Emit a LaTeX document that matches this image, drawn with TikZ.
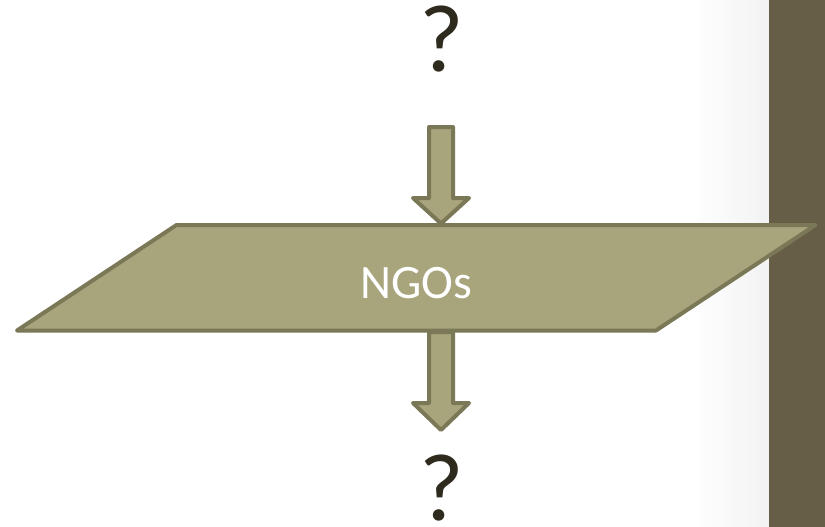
\documentclass[tikz,border=0pt]{standalone}
\usepackage{fontspec}
\setmainfont{Carlito}
\definecolor{olivefill}{HTML}{A8A57C}
\definecolor{oliveline}{HTML}{7A7856}
\definecolor{barcol}{HTML}{665E47}
\definecolor{qcol}{HTML}{2E2A1E}
\tikzset{
  shapebox/.style={fill=olivefill,draw=oliveline,line width=4pt,line join=round},
  qmark/.style={text=qcol,font=\fontsize{96}{96}\selectfont,inner sep=0pt,anchor=base},
  label/.style={text=white,font=\fontsize{48}{48}\selectfont,inner sep=0pt,anchor=base}
}
\begin{document}
\begin{tikzpicture}[x=1pt,y=-1pt]
\useasboundingbox (0,0) rectangle (825,527);
\fill[white] (0,0) rectangle (825,527);
\shade[left color=white,right color=black!5] (690,0) rectangle (769,527);
\fill[barcol] (769,0) rectangle (825,527);
% parallelogram
\draw[shapebox] (17,330.5) -- (176.5,225) -- (815.5,225) -- (656,330.5) -- cycle;
\node[label] (ngo) at (416.5,298) {NGOs};
% question marks
\node[qmark] (q1) at (442,72) {?};
\node[qmark] (q2) at (442,520) {?};
% upper block arrow
\draw[shapebox] (429,127) -- (429,198) -- (413,198) -- (441,223.5) -- (469,198) -- (453,198) -- (453,127) -- cycle;
% lower block arrow
\draw[shapebox] (429,332) -- (429,403) -- (413,403) -- (441,430) -- (469,403) -- (453,403) -- (453,332) -- cycle;
\end{tikzpicture}
\end{document}
